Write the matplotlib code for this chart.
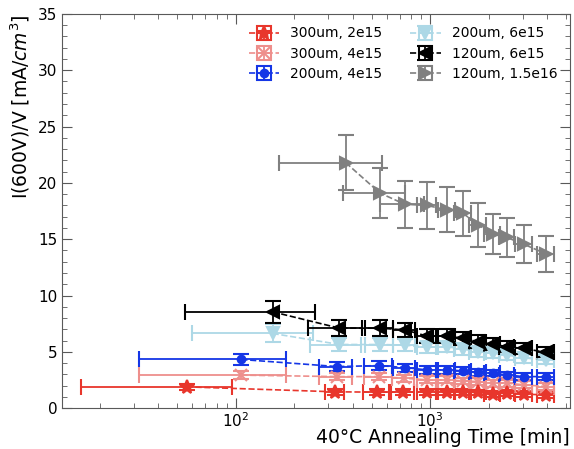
import numpy as np
import matplotlib.pyplot as plt
from matplotlib.ticker import MultipleLocator

# cumulative annealing time [min] and I(600V)/V [mA/cm^3] per sample
labels = ['300um, 2e15', '300um, 4e15', '200um, 4e15',
          '200um, 6e15', '120um, 6e15', '120um, 1.5e16']

t_300_2e15 = [56, 324, 533, 727, 963, 1220, 1475, 1761, 2096, 2483, 3036, 3939]
terr_300_2e15 = [40, 35, 80, 95, 110, 120, 140, 170, 200, 230, 290, 380]
i_300_2e15 = [1.89, 1.45, 1.42, 1.42, 1.42, 1.42, 1.42, 1.40, 1.26, 1.33, 1.24, 1.18]
ierr_300_2e15 = [0.25, 0.25, 0.25, 0.25, 0.25, 0.25, 0.25, 0.25, 0.25, 0.25, 0.25, 0.25]

t_300_4e15 = [107, 332, 545, 735, 963, 1220, 1475, 1761, 2096, 2483, 3036, 3939]
terr_300_4e15 = [75, 65, 90, 95, 110, 120, 140, 170, 200, 230, 290, 380]
i_300_4e15 = [2.93, 2.80, 2.80, 2.66, 2.51, 2.51, 2.42, 2.36, 2.22, 2.22, 2.07, 1.92]
ierr_300_4e15 = [0.35, 0.3, 0.3, 0.3, 0.3, 0.3, 0.3, 0.3, 0.3, 0.3, 0.3, 0.3]

t_200_4e15 = [107, 333, 548, 741, 963, 1220, 1475, 1761, 2096, 2483, 3036, 3939]
terr_200_4e15 = [75, 65, 90, 95, 110, 120, 140, 170, 200, 230, 290, 380]
i_200_4e15 = [4.32, 3.69, 3.78, 3.60, 3.40, 3.40, 3.31, 3.19, 3.11, 2.95, 2.80, 2.80]
ierr_200_4e15 = [0.45, 0.4, 0.4, 0.35, 0.35, 0.35, 0.3, 0.3, 0.3, 0.3, 0.3, 0.3]

t_200_6e15 = [155, 342, 552, 741, 963, 1220, 1475, 1761, 2096, 2483, 3036, 3939]
terr_200_6e15 = [95, 100, 90, 95, 110, 120, 140, 170, 200, 230, 290, 380]
i_200_6e15 = [6.63, 5.65, 5.65, 5.60, 5.40, 5.45, 5.25, 5.00, 4.88, 4.72, 4.45, 4.30]
ierr_200_6e15 = [0.8, 0.6, 0.6, 0.55, 0.5, 0.5, 0.5, 0.45, 0.45, 0.45, 0.4, 0.4]

t_120_6e15 = [155, 342, 552, 741, 963, 1220, 1475, 1761, 2096, 2483, 3036, 3939]
terr_120_6e15 = [100, 105, 90, 95, 110, 120, 140, 170, 200, 230, 290, 380]
i_120_6e15 = [8.55, 7.10, 7.10, 6.95, 6.40, 6.40, 6.20, 5.90, 5.70, 5.45, 5.30, 4.95]
ierr_120_6e15 = [0.95, 0.7, 0.7, 0.65, 0.6, 0.6, 0.55, 0.55, 0.5, 0.5, 0.5, 0.45]

t_120_15e15 = [368, 552, 741, 963, 1220, 1475, 1761, 2096, 2483, 3036, 3939]
terr_120_15e15 = [200, 195, 190, 110, 120, 140, 170, 200, 230, 290, 380]
i_120_15e15 = [21.8, 19.1, 18.1, 18.0, 17.6, 17.3, 16.3, 15.45, 15.15, 14.55, 13.7]
ierr_120_15e15 = [2.45, 2.2, 2.1, 2.1, 2.0, 2.0, 1.95, 1.75, 1.75, 1.7, 1.6]

series = [
    (t_300_2e15, terr_300_2e15, i_300_2e15, ierr_300_2e15, '#e8362c', '*', 10),
    (t_300_4e15, terr_300_4e15, i_300_4e15, ierr_300_4e15, '#ee8f8c', 'x', 8),
    (t_200_4e15, terr_200_4e15, i_200_4e15, ierr_200_4e15, '#1536e6', 'o', 5.5),
    (t_200_6e15, terr_200_6e15, i_200_6e15, ierr_200_6e15, '#add8e6', 'v', 8.5),
    (t_120_6e15, terr_120_6e15, i_120_6e15, ierr_120_6e15, 'black', '<', 8.5),
    (t_120_15e15, terr_120_15e15, i_120_15e15, ierr_120_15e15, 'gray', '>', 8.5),
]

fig = plt.figure(figsize=(5.74, 4.49), dpi=100)
ax = fig.add_axes([0.108, 0.091, 0.885, 0.878])

for (t, terr, cur, cerr, col, mk, ms), lab in zip(series, labels):
    ax.errorbar(t, cur, xerr=terr, yerr=cerr, fmt=mk, ls='--', color=col,
                ms=ms, mew=1.5, lw=1.2, elinewidth=1.3, capsize=5.5,
                capthick=1.3, label=lab)

ax.set_xscale('log')
ax.set_xlim(12.8, 5240)
ax.set_ylim(0, 35)
ax.yaxis.set_major_locator(MultipleLocator(5))
ax.yaxis.set_minor_locator(MultipleLocator(1))

ax.tick_params(which='both', direction='in', top=True, right=True,
               labelsize=11, color='0.35')
ax.tick_params(which='major', length=7)
ax.tick_params(which='minor', length=3.5)
ax.tick_params(axis='x', which='major', pad=2)
for sp in ax.spines.values():
    sp.set_color('0.35')

ax.set_xlabel('40°C Annealing Time [min]', fontsize=13.5, loc='right',
              labelpad=-1)
ax.set_ylabel(r'I(600V)/V [mA/$cm^3$]', fontsize=13.5, loc='top')

ax.legend(ncol=2, loc='upper right', frameon=False, fontsize=10,
          handlelength=2.2, labelspacing=0.45, columnspacing=2.0,
          bbox_to_anchor=(1.0, 1.0))

fig.savefig('out.png', dpi=100)
